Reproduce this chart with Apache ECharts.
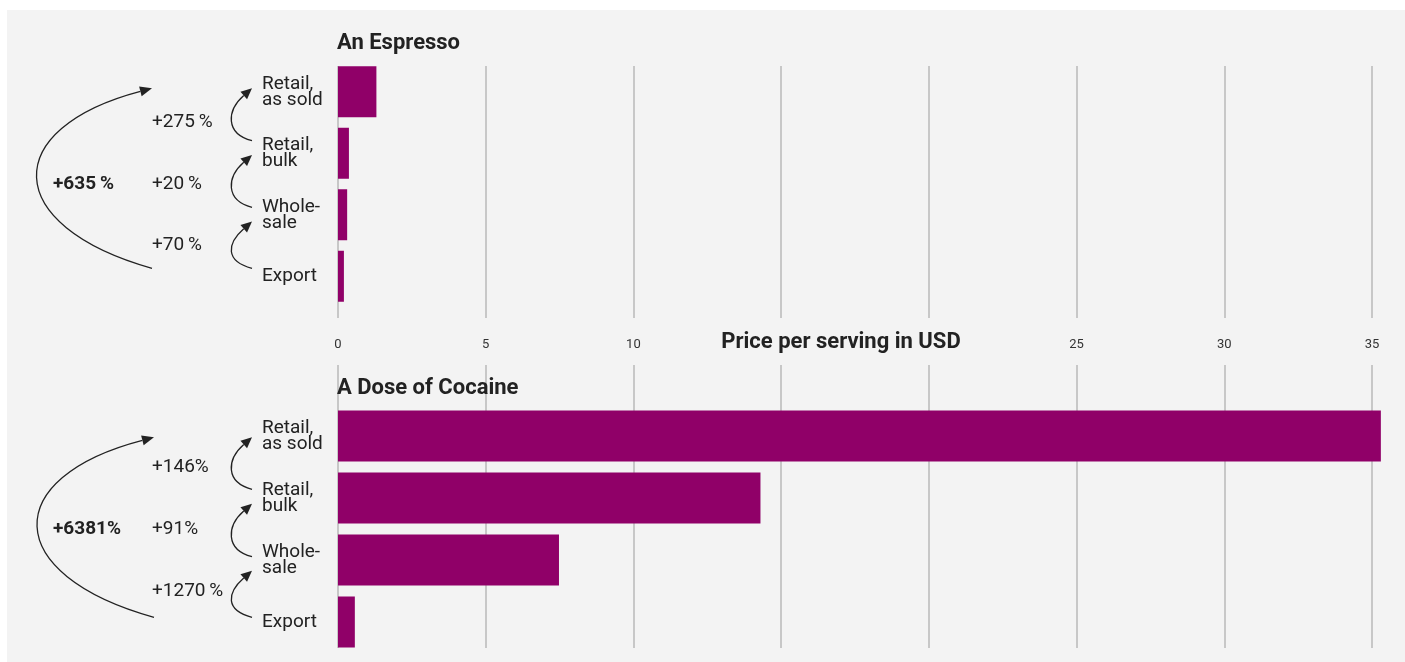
<!DOCTYPE html>
<html><head><meta charset="utf-8">
<script src="https://cdn.jsdelivr.net/npm/echarts@6/dist/echarts.min.js"></script>
<style>
html,body{margin:0;padding:0;background:#fff;overflow:hidden;}
#bg{position:absolute;left:7px;top:10px;right:0;bottom:0;background:#f3f3f3;}
#chart{position:absolute;left:0;top:0;width:1405px;height:662px;}
</style></head><body>
<div id="bg"></div><div id="chart"></div>
<script>
// ---------- data ----------
const categories = ['Retail,\nas sold', 'Retail,\nbulk', 'Whole-\nsale', 'Export'];
const espressoPrices = [1.3, 0.37, 0.31, 0.2];
const cocainePrices = [35.3, 14.3, 7.48, 0.57];
const hiddenTicks = [15, 20];              // covered by the axis title
const espressoSteps = ['+275\u2009%', '+20\u2009%', '+70\u2009%'];
const espressoTotal = '+635\u2009%';
const cocaineSteps = ['+146%', '+91%', '+1270\u2009%'];
const cocaineTotal = '+6381%';
const panelTitles = ['An Espresso', 'A Dose of Cocaine'];
const axisTitle = 'Price per serving in USD';

// ---------- style / layout ----------
const FONT = 'Roboto';
const BAR = '#900068';
const INK = '#222';
const GRIDLINE = '#b8b8b8';
const L = 338, W = 1034;

const chart = echarts.init(document.getElementById('chart'), null, {renderer: 'canvas'});

function valueX(gi, opts) {
  return Object.assign({type: 'value', gridIndex: gi, min: 0, max: 35, interval: 5}, opts);
}
function catY(gi) {
  return {
    type: 'category', gridIndex: gi, data: categories, inverse: true,
    axisLine: {show: false}, axisTick: {show: false},
    axisLabel: {align: 'left', margin: 76, fontSize: 19, lineHeight: 16, color: INK, fontFamily: FONT,
      padding: [2, 0, 0, 0]}
  };
}
const splitStyle = {show: true, lineStyle: {color: GRIDLINE, width: 1.5}};

chart.setOption({
  animation: false,
  backgroundColor: 'transparent',
  grid: [
    {left: L, width: W, top: 61, height: 246},
    {left: L, width: W, top: 66, height: 252},
    {left: L, width: W, top: 405, height: 248},
    {left: L, width: W, top: 365, height: 283}
  ],
  xAxis: [
    valueX(0, {show: false}),
    valueX(1, {
      axisLine: {show: false}, axisTick: {show: false}, splitLine: splitStyle,
      axisLabel: {margin: 20, fontSize: 13, color: '#333', fontFamily: FONT,
        formatter: v => hiddenTicks.includes(v) ? '' : String(v)}
    }),
    valueX(2, {show: false}),
    valueX(3, {axisLine: {show: false}, axisTick: {show: false}, axisLabel: {show: false}, splitLine: splitStyle})
  ],
  yAxis: [
    catY(0),
    {type: 'value', gridIndex: 1, show: false, min: 0, max: 1},
    catY(2),
    {type: 'value', gridIndex: 3, show: false, min: 0, max: 1}
  ],
  series: [
    {type: 'bar', xAxisIndex: 0, yAxisIndex: 0, data: espressoPrices, barWidth: 51, clip: false,
     itemStyle: {color: BAR}, silent: true, z: 5},
    {type: 'bar', xAxisIndex: 2, yAxisIndex: 2, data: cocainePrices, barWidth: 51, clip: false,
     itemStyle: {color: BAR}, silent: true, z: 5}
  ]
});

// ---------- annotations ----------
function catPx(axisIdx, i) {
  return chart.convertToPixel({yAxisIndex: axisIdx}, categories[i]);
}
function arrow(S, cp1, cp2, T, d, len, wid) {
  const n = Math.hypot(d[0], d[1]);
  const dx = d[0] / n, dy = d[1] / n;
  const B = [T[0] - len * dx, T[1] - len * dy];
  const px = -dy, py = dx;
  return [
    {type: 'bezierCurve', silent: true, z: 10,
     shape: {x1: S[0], y1: S[1], cpx1: cp1[0], cpy1: cp1[1], cpx2: cp2[0], cpy2: cp2[1], x2: B[0], y2: B[1]},
     style: {stroke: INK, lineWidth: 1.3, fill: null}},
    {type: 'polygon', silent: true, z: 10,
     shape: {points: [T, [B[0] + px * wid / 2, B[1] + py * wid / 2], [B[0] - px * wid / 2, B[1] - py * wid / 2]]},
     style: {fill: INK}}
  ];
}
function smallArrow(sy, ty) {
  const d = [0.75, -0.66];
  const T = [252, ty];
  const B = [T[0] - 11 * 0.75, ty + 11 * 0.66];
  return arrow([252, sy], [225, sy - 7], [B[0] - 17, B[1] + 15], T, d, 11, 10);
}
function bigArrow(sx, sy, tx, ty) {
  return arrow([sx, sy], [0, sy - 43], [0, ty + 40], [tx, ty], [0.967, -0.253], 12, 10);
}
function txt(text, x, y, size, weight, align) {
  return {type: 'text', silent: true, z: 10, x: x, y: y,
    style: {text: text, fill: INK, font: (weight || 'normal') + ' ' + size + 'px ' + FONT,
      align: align || 'left', verticalAlign: 'middle', textVerticalAlign: 'middle'}};
}

const els = [];
[[0, espressoSteps, espressoTotal], [2, cocaineSteps, cocaineTotal]].forEach(([ax, steps, total]) => {
  const c = categories.map((_, i) => catPx(ax, i));
  const mids = [0, 1, 2].map(i => (c[i] + c[i + 1]) / 2);
  steps.forEach((s, i) => els.push(txt(s, 152, mids[i], 19)));
  els.push(txt(total, 53, mids[1], 19, 'bold'));
});
// arrow geometry (pixels)
const smallTop = [[140.7, 88.3], [207.3, 155], [268.3, 221.5]];
const smallBot = [[489.3, 437.3], [556.7, 503.8], [617.3, 570.7]];
smallTop.concat(smallBot).forEach(([s, t]) => els.push(...smallArrow(s, t)));
els.push(...bigArrow(152, 268.3, 152, 88.3));
els.push(...bigArrow(154, 617.3, 154, 437.3));
els.push(txt(panelTitles[0], 337, 43, 22, 'bold'));
els.push(txt(panelTitles[1], 337, 388, 22, 'bold'));
els.push(txt(axisTitle, 841, 342, 22, 'bold', 'center'));
chart.setOption({graphic: {elements: els}});
</script>
</body></html>
